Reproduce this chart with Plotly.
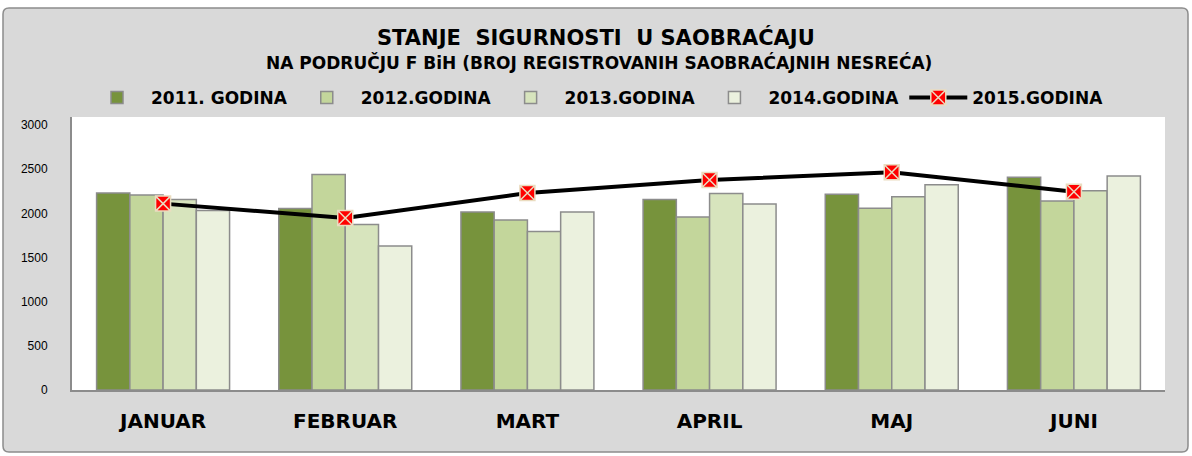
import plotly.graph_objects as go

months = ["JANUAR", "FEBRUAR", "MART", "APRIL", "MAJ", "JUNI"]
y2011 = [2230, 2055, 2015, 2157, 2215, 2408]
y2012 = [2208, 2440, 1925, 1958, 2057, 2140]
y2013 = [2157, 1874, 1795, 2225, 2189, 2256]
y2014 = [2032, 1630, 2015, 2106, 2325, 2423]
y2015 = [2110, 1947, 2230, 2377, 2465, 2245]
series_names = ["2011. GODINA", "2012.GODINA", "2013.GODINA", "2014.GODINA", "2015.GODINA"]
bar_colors = ["#77933c", "#c3d69b", "#d7e4bd", "#ebf1de"]

W, H = 1192, 456
L, R, T, B = 72, 1165, 117, 390
pw, ph = R - L, B - T


def px(x):
    return (x - L) / pw


def py(y):
    return (B - y) / ph


fig = go.Figure()
for name, vals, col in zip(series_names[:4], [y2011, y2012, y2013, y2014], bar_colors):
    fig.add_trace(go.Bar(
        x=months, y=vals, name=name,
        marker=dict(color=col, line=dict(color="#8c8c8c", width=1.5)),
    ))

fig.add_trace(go.Scatter(
    x=months, y=y2015, name=series_names[4], mode="lines+markers",
    line=dict(color="black", width=4),
    marker=dict(symbol="square-x", size=15, color="#ff0000",
                line=dict(color="#eadcc0", width=1.5)),
))

# outer rounded frame
x0, x1 = px(3), px(1188)
y0, y1 = py(452), py(8)
rx, ry = 6 / pw, 6 / ph
path = (f"M {x0+rx},{y0} L {x1-rx},{y0} Q {x1},{y0} {x1},{y0+ry} "
        f"L {x1},{y1-ry} Q {x1},{y1} {x1-rx},{y1} L {x0+rx},{y1} "
        f"Q {x0},{y1} {x0},{y1-ry} L {x0},{y0+ry} Q {x0},{y0} {x0+rx},{y0} Z")
fig.add_shape(type="path", path=path, xref="paper", yref="paper",
              fillcolor="#d9d9d9", line=dict(color="#8c8c8c", width=1.5),
              layer="below")
# white plot area
fig.add_shape(type="rect", xref="paper", yref="paper", x0=0, x1=1, y0=0, y1=1,
              fillcolor="white", line=dict(width=0), layer="below")

fig.add_annotation(text="STANJE  SIGURNOSTI  U SAOBRAĆAJU", xref="paper", yref="paper",
                   x=px(596), y=py(38), showarrow=False, xanchor="center", yanchor="middle",
                   font=dict(family="DejaVu Sans", size=21, color="black", weight="bold"))
fig.add_annotation(text="NA PODRUČJU F BiH (BROJ REGISTROVANIH SAOBRAĆAJNIH NESREĆA)",
                   xref="paper", yref="paper",
                   x=px(599), y=py(62), showarrow=False, xanchor="center", yanchor="middle",
                   font=dict(family="DejaVu Sans", size=17, color="black", weight="bold"))

fig.update_layout(
    width=W, height=H,
    margin=dict(l=L, r=W - R, t=T, b=H - B, autoexpand=False),
    paper_bgcolor="white", plot_bgcolor="white",
    barmode="group", bargap=0.27, bargroupgap=0,
    showlegend=True,
    legend=dict(orientation="h", xref="container", x=0.5, xanchor="center",
                yref="container", y=1 - 98 / H, yanchor="middle",
                bgcolor="rgba(0,0,0,0)",
                font=dict(family="DejaVu Sans", size=17, color="black", weight="bold"),
                itemwidth=58, tracegroupgap=0),
    xaxis=dict(showline=True, linecolor="#8c8c8c", linewidth=2, showgrid=False,
               ticks="", ticklabelstandoff=12,
               tickfont=dict(family="DejaVu Sans", size=20, color="black", weight="bold")),
    yaxis=dict(range=[0, 3000 * ph / 265], tickvals=[0, 500, 1000, 1500, 2000, 2500, 3000],
               showline=True, linecolor="#8c8c8c", linewidth=2, showgrid=False,
               zeroline=False, ticks="", ticklabelstandoff=20,
               tickfont=dict(family="Liberation Sans", size=12, color="black")),
)

fig.write_html("out.html", config={"displayModeBar": False},
               post_script="document.body.style.margin='0';document.body.style.padding='0';")
